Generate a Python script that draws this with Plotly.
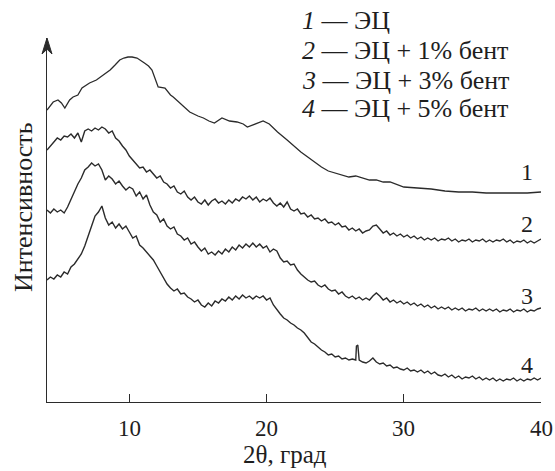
import plotly.graph_objects as go

# ---- data (2θ in degrees, intensity in arbitrary units, curves offset) ----
x1 = [4.0, 4.45, 4.8, 5.05, 5.3, 5.65, 5.9, 6.25, 6.55, 7.1, 7.6, 7.9, 8.6, 8.96, 9.3,
      9.6, 9.9, 10.2, 10.56, 11.1, 11.4, 11.65, 11.9, 12.1, 12.6, 13.0, 13.2, 13.8,
      14.4, 15.0, 15.4, 15.8, 16.2, 16.75, 17.3, 17.85, 18.3, 18.6, 19.2, 19.75, 20.2,
      20.8, 21.5, 22.0, 22.5, 23.0, 23.5, 24.0, 24.5, 25.0, 25.5, 26.0, 26.5, 27.0,
      27.5, 28.0, 28.5, 29.0, 30.0, 31.0, 32.0, 33.0, 34.0, 35.0, 36.0, 37.0, 38.0,
      39.0, 40.0]
y1 = [290, 298, 300, 297, 292, 300, 303, 305, 312, 317, 320, 323, 330, 335, 340,
      342, 343, 343, 342, 337, 334, 330, 320, 313, 312, 305, 303, 295,
      288, 284, 282, 279, 277, 282, 279, 278, 276, 273, 276, 279, 276,
      268, 260, 254, 248, 243, 238, 233, 229, 227, 225, 223, 224, 222,
      220, 220, 218, 218, 213, 212, 211, 209, 208, 208, 207, 207, 207,
      207, 208]

two_theta = [round(4.0 + 0.25 * i, 2) for i in range(145)]

y2 = [250, 254, 257, 262,  260, 264, 263, 266,  262, 267, 258, 269,  271, 269, 272, 270,
      273, 271, 267, 269,  262, 259, 254, 250,  244, 240, 237, 232,  233, 228, 230, 226,
      222, 224, 218, 216,  212, 214, 208, 206,  209, 203, 200, 203,  198, 196, 200, 195,
      199, 201, 197, 199,  196, 200, 197, 201,  199, 203, 201, 204,  200, 203, 198, 201,
      199, 202, 197, 194,  197, 193, 198, 191,  189, 191, 186, 187,  183, 185, 181, 182,
      179, 181, 177, 178,  175, 177, 173, 174,  170, 172, 169, 171,  167, 169, 170, 174,
      175, 171, 167, 169,  165, 167, 164, 166,  163, 165, 162, 164,  161, 163, 160, 162,
      160, 162, 159, 161,  160, 162, 159, 161,  158, 160, 159, 161,  158, 160, 159, 161,
      158, 160, 158, 160,  159, 161, 158, 160,  157, 159, 158, 160,  157, 159, 157, 159,
      161]

y3 = [190, 187, 191, 188,  190, 187, 193, 201,  208, 216, 222, 230,  233, 237, 234, 236,
      230, 220, 224, 221,  216, 219, 214, 210,  213, 211, 204, 208,  201, 205, 195, 188,
      185, 178, 181, 174,  171, 173, 166, 164,  160, 162, 156, 158,  153, 149, 152, 146,
      148, 145, 149, 146,  151, 148, 153, 150,  155, 152, 156, 153,  157, 153, 156, 152,
      154, 148, 151, 149,  142, 138, 139, 135,  136, 130, 126, 123,  120, 118, 119, 115,
      113, 115, 111, 109,  110, 106, 108, 104,  102, 104, 101, 103,  100, 102, 100, 104,
      107, 104, 100, 102,  98, 100, 97, 99,  96, 98, 95, 97,  94, 96, 93, 95,
      92, 94, 91, 93,  91, 93, 90, 92,  90, 92, 89, 91,  90, 92, 89, 91,
      89, 91, 89, 91,  88, 90, 89, 91,  88, 90, 89, 91,  88, 90, 89, 91,
      92]

y4_grid = [120, 123, 121, 125,  123, 128, 126, 133,  136, 141, 146, 154,  163, 174, 184, 188,
           194, 182, 175, 178,  172, 176, 171, 174,  168, 162, 164, 155,  152, 148, 144, 140,
           134, 128, 121, 116,  112, 109, 111, 106,  107, 103, 101, 98,  100, 95, 93, 97,
           94, 99, 97, 101,  99, 103, 100, 104,  101, 105, 102, 104,  101, 104, 102, 104,
           100, 102, 95, 90,  86, 82, 80, 77,  75, 72, 70, 67,  63, 58, 56, 53,
           50, 48, 45, 46,  43, 44, 41, 42,  40, 41, 40, 40,  38, 37, 39, 42,
           38, 36, 37, 34,  35, 32, 33, 31,  30, 32, 29, 30,  28, 30, 27, 29,
           26, 28, 25, 24,  26, 23, 25, 22,  24, 21, 23, 22,  24, 21, 23, 20,
           22, 20, 22, 19,  21, 19, 21, 20,  22, 19, 21, 19,  21, 20, 22, 20,
           22]
spike_x = [26.55, 26.65]
spike_y = [54, 55]

legend_lines = ["<i>1</i> — ЭЦ", "<i>2</i> — ЭЦ + 1% бент",
                "<i>3</i> — ЭЦ + 3% бент", "<i>4</i> — ЭЦ + 5% бент"]
curve_labels = ["1", "2", "3", "4"]
label_y = [228, 176, 104, 35]

x_ticks = [10, 20, 30, 40]
x_tick_text = ["10", "20", "30", "40"]

# ---- build ----
pairs4 = sorted(list(zip(two_theta, y4_grid)) + list(zip(spike_x, spike_y)))
x4 = [p[0] for p in pairs4]
y4 = [p[1] for p in pairs4]

FONT = "Liberation Serif"
INK = "#2b2b2b"
TXT = "#1e1e1e"

fig = go.Figure()
for xs, ys, w in [(x1, y1, 1.3), (two_theta, y2, 1.4), (two_theta, y3, 1.4), (x4, y4, 1.4)]:
    fig.add_trace(go.Scatter(x=xs, y=ys, mode="lines",
                             line=dict(color=INK, width=w), showlegend=False))

W, H = 555, 471
ml, mr, mt, mb = 47, 14, 38, 69

fig.update_layout(
    width=W, height=H,
    margin=dict(l=ml, r=mr, t=mt, b=mb),
    paper_bgcolor="white", plot_bgcolor="white",
    font=dict(family=FONT, color=TXT, size=23),
    showlegend=False,
)
fig.update_xaxes(range=[4, 40], tickvals=x_ticks, ticks="inside", ticklen=8,
                 tickwidth=1.3, tickcolor=INK, showline=True, linecolor=INK,
                 linewidth=1.3, showgrid=False, zeroline=False, automargin=False,
                 showticklabels=False)
fig.update_yaxes(range=[-2, 362], showline=True, linecolor=INK, linewidth=1.3,
                 showticklabels=False, showgrid=False, zeroline=False,
                 automargin=False)

plot_w = W - ml - mr
plot_h = H - mt - mb

# y-axis arrow head drawn as a small filled triangle at the top of the y axis
ah_w = 5.0 / plot_w
ah_h = 16.0 / plot_h
fig.add_shape(type="path", xref="paper", yref="paper",
              path=f"M {-ah_w} {1 - ah_h} L 0 1 L {ah_w} {1 - ah_h} L 0 {1 - 0.7 * ah_h} Z",
              fillcolor=INK, line=dict(color=INK, width=1))


def px_to_paper_x(px):
    return (px - ml) / plot_w


def px_to_paper_y(py):
    return (H - mb - py) / plot_h


# x tick labels (text placed at the tick values of the x axis)
for tv, tt in zip(x_ticks, x_tick_text):
    fig.add_annotation(text=tt, x=tv, xref="x", yref="paper", y=px_to_paper_y(428),
                       showarrow=False, xanchor="center", yanchor="middle",
                       font=dict(family=FONT, size=23))

# axis titles
fig.add_annotation(text="Интенсивность", textangle=-90, xref="paper", yref="paper",
                   x=px_to_paper_x(23), y=px_to_paper_y(207), showarrow=False,
                   xanchor="center", yanchor="middle",
                   font=dict(family=FONT, size=26))
fig.add_annotation(text="2θ, град", xref="paper", yref="paper",
                   x=px_to_paper_x(285), y=px_to_paper_y(454), showarrow=False,
                   xanchor="center", yanchor="middle",
                   font=dict(family=FONT, size=25))

# legend text block
legend_py = [21, 50, 80, 109]
for txt, py in zip(legend_lines, legend_py):
    fig.add_annotation(text=txt, xref="paper", yref="paper",
                       x=px_to_paper_x(300), y=px_to_paper_y(py), showarrow=False,
                       xanchor="left", yanchor="middle", font=dict(family=FONT, size=26))

# curve number labels
for lab, ly in zip(curve_labels, label_y):
    fig.add_annotation(text=lab, x=39.0, y=ly, xref="x", yref="y", showarrow=False,
                       xanchor="center", yanchor="middle",
                       font=dict(family=FONT, size=24))

fig.write_html("out.html")
